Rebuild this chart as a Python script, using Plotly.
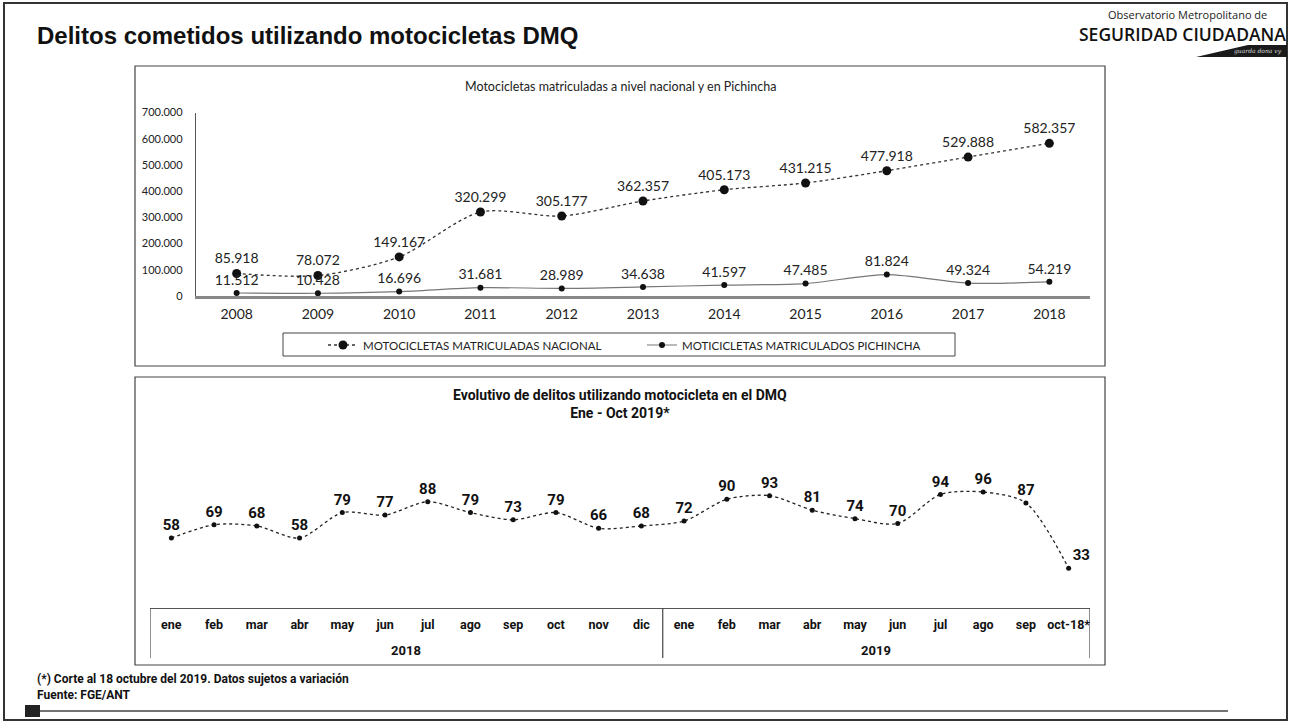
import plotly.graph_objects as go

# ---------------- data ----------------
years = ["2008", "2009", "2010", "2011", "2012", "2013", "2014", "2015", "2016", "2017", "2018"]
nacional = [85918, 78072, 149167, 320299, 305177, 362357, 405173, 431215, 477918, 529888, 582357]
pichincha = [11512, 10428, 16696, 31681, 28989, 34638, 41597, 47485, 81824, 49324, 54219]
y_ticks = [0, 100000, 200000, 300000, 400000, 500000, 600000, 700000]

months = ["ene", "feb", "mar", "abr", "may", "jun", "jul", "ago", "sep", "oct", "nov", "dic",
          "ene", "feb", "mar", "abr", "may", "jun", "jul", "ago", "sep", "oct-18*"]
delitos = [58, 69, 68, 58, 79, 77, 88, 79, 73, 79, 66, 68,
           72, 90, 93, 81, 74, 70, 94, 96, 87, 33]
year_groups = ["2018", "2019"]
months_per_group = [12, 10]

W, H = 1295, 723


def fx(x):
    return x / W


def fy(y):
    return 1 - y / H


CAL = "Lato, Carlito, Calibri, 'Open Sans', sans-serif"
NARROW = "Roboto, 'Liberation Sans Narrow', 'Arial Narrow', sans-serif"

fig = go.Figure()

# ---------------- top chart ----------------
fig.add_trace(go.Scatter(
    x=years, y=nacional, name="MOTOCICLETAS MATRICULADAS NACIONAL",
    mode="lines+markers+text", line=dict(color="#333333", width=1.3, dash="dot", shape="spline", smoothing=0.8),
    marker=dict(color="#111111", size=9),
    texttemplate="%{y:,d}", textposition="top center",
    textfont=dict(family=CAL, size=14, color="#222222"),
    xaxis="x", yaxis="y", cliponaxis=False,
))
fig.add_trace(go.Scatter(
    x=years, y=pichincha, name="MOTICICLETAS MATRICULADOS PICHINCHA",
    mode="lines+markers+text", line=dict(color="#777777", width=1.2, shape="spline", smoothing=0.8),
    marker=dict(color="#111111", size=6),
    texttemplate="%{y:,d}", textposition="top center",
    textfont=dict(family=CAL, size=14, color="#222222"),
    xaxis="x", yaxis="y", cliponaxis=False,
))

# ---------------- bottom chart ----------------
idx = list(range(len(delitos)))
positions = ["top center"] * (len(delitos) - 1) + ["top right"]
fig.add_trace(go.Scatter(
    x=idx, y=delitos, name="delitos", showlegend=False,
    mode="lines+markers+text", line=dict(color="#222222", width=1.3, dash="dot", shape="spline", smoothing=0.8),
    marker=dict(color="#111111", size=5),
    text=[str(v) for v in delitos], textposition=positions,
    textfont=dict(family=NARROW, size=15, color="#111111", weight="bold"),
    xaxis="x2", yaxis="y2", cliponaxis=False,
))

n = len(delitos)
fig.update_layout(
    width=W, height=H, margin=dict(l=0, r=0, t=0, b=0, pad=0, autoexpand=False),
    paper_bgcolor="white", plot_bgcolor="white",
    separators=",.",
    showlegend=True,
    legend=dict(orientation="h", x=fx(323), xanchor="left", y=fy(345), yanchor="middle",
                font=dict(family=CAL, size=11.5, color="#222222"),
                entrywidth=274, entrywidthmode="pixels", bgcolor="rgba(0,0,0,0)",
                itemsizing="trace"),
    xaxis=dict(domain=[fx(196), fx(1090)], type="category", range=[-0.5, len(years) - 0.5],
               showline=True, linecolor="#888888", linewidth=2.5, showgrid=False, zeroline=False,
               ticks="", tickfont=dict(family=CAL, size=14, color="#222222"),
               ticklabelstandoff=3, anchor="y", automargin=False),
    yaxis=dict(domain=[fy(296), fy(112.5)], range=[0, 700000], tickvals=y_ticks, tickformat=",d",
               showline=True, linecolor="#555555", linewidth=1.3, showgrid=False, zeroline=False,
               ticks="", tickfont=dict(family=CAL, size=11, color="#222222"),
               ticklabelstandoff=10, anchor="x", automargin=False),
    xaxis2=dict(domain=[fx(150), fx(1090)], range=[-0.5, n - 0.5],
                tickvals=idx, ticktext=months,
                showline=True, linecolor="#555555", linewidth=1.3, showgrid=False, zeroline=False,
                ticks="", tickfont=dict(family=NARROW, size=12.5, color="#111111", weight="bold"),
                ticklabelstandoff=5, anchor="y2", automargin=False),
    yaxis2=dict(domain=[fy(608), fy(440)], range=[0.15, 139], visible=False, anchor="x2", automargin=False),
)

shapes = []
# outer frame
shapes.append(dict(type="rect", xref="paper", yref="paper", x0=fx(4), x1=fx(1287), y0=fy(720), y1=fy(3),
                   line=dict(color="#333333", width=2)))
# chart boxes
shapes.append(dict(type="rect", xref="paper", yref="paper", x0=fx(135), x1=fx(1105), y0=fy(366), y1=fy(66),
                   line=dict(color="#444444", width=1.2)))
shapes.append(dict(type="rect", xref="paper", yref="paper", x0=fx(135), x1=fx(1105), y0=fy(665), y1=fy(377),
                   line=dict(color="#444444", width=1.2)))
# legend box
shapes.append(dict(type="rect", xref="paper", yref="paper", x0=fx(283), x1=fx(955), y0=fy(356), y1=fy(333),
                   line=dict(color="#444444", width=1)))
# category table separators
bounds = [-0.5]
for m in months_per_group:
    bounds.append(bounds[-1] + m)
for b in bounds:
    shapes.append(dict(type="line", xref="x2", yref="paper", x0=b, x1=b, y0=fy(658), y1=fy(608),
                       line=dict(color="#444444", width=1.2)))
# footer line and square
shapes.append(dict(type="line", xref="paper", yref="paper", x0=fx(40), x1=fx(1228), y0=fy(711), y1=fy(711),
                   line=dict(color="#444444", width=1.5)))
shapes.append(dict(type="rect", xref="paper", yref="paper", x0=fx(25), x1=fx(40), y0=fy(717), y1=fy(705),
                   line=dict(width=0), fillcolor="#222222"))
# logo stripe
shapes.append(dict(type="path", xref="paper", yref="paper",
                   path=f"M {fx(1196)} {fy(57)} L {fx(1248)} {fy(45)} L {fx(1287)} {fy(45)} L {fx(1287)} {fy(57)} Z",
                   line=dict(width=0), fillcolor="#1a1a1a"))
fig.update_layout(shapes=shapes)

ann = []
ann.append(dict(text="Delitos cometidos utilizando motocicletas DMQ", xref="paper", yref="paper",
                x=fx(35), y=fy(35), xanchor="left", yanchor="middle", showarrow=False,
                font=dict(family="'Liberation Sans', Arial, sans-serif", size=24, color="#111111", weight="bold")))
ann.append(dict(text="Observatorio Metropolitano de", xref="paper", yref="paper",
                x=fx(1269), y=fy(14), xanchor="right", yanchor="middle", showarrow=False,
                font=dict(family="'Open Sans', sans-serif", size=11, color="#222222")))
ann.append(dict(text="SEGURIDAD CIUDADANA", xref="paper", yref="paper",
                x=fx(1288), y=fy(34), xanchor="right", yanchor="middle", showarrow=False,
                font=dict(family="'Open Sans', sans-serif", size=17.5, color="#111111", weight=600)))
ann.append(dict(text="<i>guarda dona vy</i>", xref="paper", yref="paper",
                x=fx(1284), y=fy(51.5), xanchor="right", yanchor="middle", showarrow=False,
                font=dict(family="'DejaVu Serif', serif", size=6, color="#dddddd")))
ann.append(dict(text="Motocicletas matriculadas a nivel nacional y en Pichincha", xref="paper", yref="paper",
                x=fx(620), y=fy(86), xanchor="center", yanchor="middle", showarrow=False,
                font=dict(family=CAL, size=12.5, color="#222222")))
ann.append(dict(text="Evolutivo de delitos utilizando motocicleta en el DMQ<br>Ene - Oct 2019*", xref="paper", yref="paper",
                x=fx(620), y=fy(404), xanchor="center", yanchor="middle", showarrow=False,
                font=dict(family=NARROW, size=14, color="#111111", weight="bold")))
for i, g in enumerate(year_groups):
    ann.append(dict(text=g, xref="x2", yref="paper", x=(bounds[i] + bounds[i + 1]) / 2, y=fy(650),
                    xanchor="center", yanchor="middle", showarrow=False,
                    font=dict(family=NARROW, size=13, color="#111111", weight="bold")))
ann.append(dict(text="(*) Corte al 18 octubre del 2019. Datos sujetos a variación", xref="paper", yref="paper",
                x=fx(35), y=fy(679), xanchor="left", yanchor="middle", showarrow=False,
                font=dict(family=NARROW, size=12, color="#111111", weight="bold")))
ann.append(dict(text="Fuente: FGE/ANT", xref="paper", yref="paper",
                x=fx(35), y=fy(695), xanchor="left", yanchor="middle", showarrow=False,
                font=dict(family=NARROW, size=12, color="#111111", weight="bold")))
fig.update_layout(annotations=ann)

fig.write_html("out.html", config={"displayModeBar": False},
               post_script=("document.documentElement.style.margin='0';"
                            "document.body.style.margin='0';"
                            "document.body.style.overflow='hidden';"))
